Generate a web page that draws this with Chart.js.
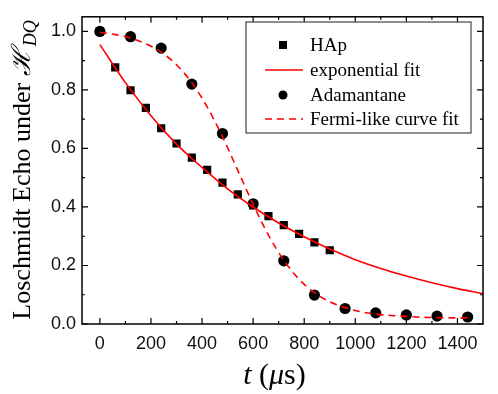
<!DOCTYPE html>
<html>
<head>
<meta charset="utf-8">
<script src="https://cdn.jsdelivr.net/npm/chart.js@4.4.0/dist/chart.umd.min.js"></script>
<style>
  html, body { margin: 0; padding: 0; background: #fff; }
</style>
</head>
<body>
<canvas id="echo-chart" width="498" height="394"></canvas>
<script>
// HAp measurements (squares)
var hapTimes = [0, 60, 120, 180, 240, 300, 360, 420, 480, 540, 600, 660, 720, 780, 840, 900];
var hapEcho = [1.0, 0.877, 0.799, 0.739, 0.669, 0.617, 0.569, 0.527, 0.483, 0.443, 0.405, 0.369, 0.338, 0.308, 0.279, 0.252];

// exponential fit
var expTimes = [0, 100, 200, 300, 400, 500, 600, 700, 800, 900, 1000, 1100, 1200, 1300, 1400, 1500];
var expEcho = [0.955, 0.825, 0.712, 0.615, 0.535, 0.462, 0.40, 0.345, 0.298, 0.256, 0.22, 0.19, 0.164, 0.141, 0.121, 0.104];

// Adamantane measurements (circles)
var adaTimes = [0, 120, 240, 360, 480, 600, 720, 840, 960, 1080, 1200, 1320, 1440];
var adaEcho = [1.0, 0.982, 0.943, 0.82, 0.651, 0.411, 0.216, 0.099, 0.053, 0.038, 0.031, 0.027, 0.024];

// Fermi-like fit
var fermiTimes = [0, 60, 120, 180, 240, 300, 360, 420, 480, 540, 600, 660, 720, 780, 840, 900, 960, 1020, 1080, 1140, 1200, 1260, 1320, 1380, 1440];
var fermiEcho = [0.997, 0.989, 0.977, 0.958, 0.929, 0.886, 0.825, 0.742, 0.640, 0.525, 0.409, 0.304, 0.218, 0.153, 0.107, 0.076, 0.056, 0.042, 0.034, 0.029, 0.026, 0.023, 0.022, 0.021, 0.021];

// axis ticks
var xTickValues = [0, 200, 400, 600, 800, 1000, 1200, 1400];
var xMinorValues = [100, 300, 500, 700, 900, 1100, 1300];
var yTickValues = [0, 0.2, 0.4, 0.6, 0.8, 1.0];
var yMinorValues = [0.1, 0.3, 0.5, 0.7, 0.9];

var toPoints = function(xs, ys) {
  return xs.map(function(x, i) { return { x: x, y: ys[i] }; });
};

var RED = 'rgb(255, 0, 0)';

// box frame with inward ticks, axis titles and the legend box
var framePlugin = {
  id: 'frame',
  afterDatasetsDraw: function(chart) {
    var ctx = chart.ctx, a = chart.chartArea;
    var xs = chart.scales.x, ys = chart.scales.y;
    ctx.save();
    ctx.strokeStyle = '#000';
    ctx.lineWidth = 1.5;
    ctx.strokeRect(a.left, a.top, a.right - a.left, a.bottom - a.top);
    ctx.lineWidth = 1.2;
    ctx.beginPath();
    var tickX = function(v, len) {
      var px = xs.getPixelForValue(v);
      ctx.moveTo(px, a.bottom); ctx.lineTo(px, a.bottom - len);
      ctx.moveTo(px, a.top); ctx.lineTo(px, a.top + len);
    };
    var tickY = function(v, len) {
      var py = ys.getPixelForValue(v);
      ctx.moveTo(a.left, py); ctx.lineTo(a.left + len, py);
      ctx.moveTo(a.right, py); ctx.lineTo(a.right - len, py);
    };
    xTickValues.forEach(function(v) { tickX(v, 6); });
    xMinorValues.forEach(function(v) { tickX(v, 3); });
    yTickValues.forEach(function(v) { tickY(v, 6); });
    yMinorValues.forEach(function(v) { tickY(v, 3); });
    ctx.stroke();
    ctx.restore();
  },
  afterDraw: function(chart) {
    var ctx = chart.ctx, a = chart.chartArea;
    ctx.save();
    ctx.fillStyle = '#000';

    // y title, rotated
    var serif = '"Liberation Serif", "DejaVu Serif", serif';
    var main = 'Loschmidt Echo under ';
    ctx.font = '26px ' + serif;
    var w1 = ctx.measureText(main).width;
    ctx.font = 'italic 26px ' + serif;
    var w2 = ctx.measureText('\u210B').width;
    ctx.font = 'italic 18px ' + serif;
    var w3 = ctx.measureText('DQ').width;
    var total = w1 + w2 + 2 + w3;
    ctx.translate(30, 170);
    ctx.rotate(-Math.PI / 2);
    ctx.textBaseline = 'alphabetic';
    ctx.textAlign = 'left';
    var sx = -total / 2;
    ctx.font = '26px ' + serif;
    ctx.fillText(main, sx, 0);
    ctx.font = 'italic 26px ' + serif;
    ctx.fillText('\u210B', sx + w1, 0);
    ctx.font = 'italic 18px ' + serif;
    ctx.fillText('DQ', sx + w1 + w2 + 2, 6);
    ctx.setTransform(1, 0, 0, 1, 0, 0);

    // x title: t (μs)
    var parts = [
      { t: 't', f: 'italic 30px ' + serif },
      { t: ' (', f: '30px ' + serif },
      { t: '\u03BC', f: 'italic 30px ' + serif },
      { t: 's)', f: '30px ' + serif }
    ];
    var tw = 0;
    parts.forEach(function(p) { ctx.font = p.f; p.w = ctx.measureText(p.t).width; tw += p.w; });
    var px = (a.left + a.right) / 2 - tw / 2 - 8;
    parts.forEach(function(p) {
      ctx.font = p.f;
      ctx.fillText(p.t, px, 384);
      px += p.w;
    });

    // legend box
    var box = { left: 246, top: 22, right: 471, bottom: 133 };
    ctx.fillStyle = '#fff';
    ctx.fillRect(box.left, box.top, box.right - box.left, box.bottom - box.top);
    ctx.strokeStyle = '#444';
    ctx.lineWidth = 1.2;
    ctx.strokeRect(box.left, box.top, box.right - box.left, box.bottom - box.top);
    var rowY = [45, 70, 95, 119];
    ctx.font = '19px ' + serif;
    ctx.textBaseline = 'middle';
    chart.data.datasets.forEach(function(ds, i) {
      var y = rowY[i];
      if (ds.showLine) {
        ctx.strokeStyle = ds.borderColor;
        ctx.lineWidth = ds.borderWidth;
        ctx.setLineDash(ds.borderDash || []);
        ctx.beginPath();
        ctx.moveTo(265, y); ctx.lineTo(303, y);
        ctx.stroke();
        ctx.setLineDash([]);
      } else {
        ctx.fillStyle = '#000';
        if (ds.pointStyle === 'rect') {
          ctx.fillRect(279, y - 4, 8, 8);
        } else {
          ctx.beginPath();
          ctx.arc(283, y, 4.5, 0, Math.PI * 2);
          ctx.fill();
        }
      }
      ctx.fillStyle = '#000';
      ctx.fillText(ds.label, 310, y + 1);
    });
    ctx.restore();
  }
};

var ctx = document.getElementById('echo-chart').getContext('2d');
var echoChart = new Chart(ctx, {
  type: 'scatter',
  data: {
    datasets: [{
      label: 'HAp',
      data: toPoints(hapTimes, hapEcho),
      showLine: false,
      pointStyle: 'rect',
      pointRadius: 5.8,
      backgroundColor: '#000',
      borderColor: '#000',
      borderWidth: 0,
      order: 4
    }, {
      label: 'exponential fit',
      data: toPoints(expTimes, expEcho),
      showLine: true,
      borderColor: RED,
      borderWidth: 1.6,
      pointRadius: 0,
      cubicInterpolationMode: 'monotone',
      order: 1
    }, {
      label: 'Adamantane',
      data: toPoints(adaTimes, adaEcho),
      showLine: false,
      pointStyle: 'circle',
      pointRadius: 5.6,
      backgroundColor: '#000',
      borderColor: '#000',
      borderWidth: 0,
      order: 3
    }, {
      label: 'Fermi-like curve fit',
      data: toPoints(fermiTimes, fermiEcho),
      showLine: true,
      borderColor: RED,
      borderWidth: 1.6,
      borderDash: [7, 5],
      pointRadius: 0,
      cubicInterpolationMode: 'monotone',
      order: 2
    }]
  },
  options: {
    responsive: false,
    animation: false,
    layout: { padding: { left: 0, right: 15, top: 8, bottom: 0 } },
    plugins: {
      legend: { display: false },
      tooltip: { enabled: false }
    },
    scales: {
      x: {
        type: 'linear',
        min: -70,
        max: 1500,
        afterBuildTicks: function(scale) {
          scale.ticks = xTickValues.map(function(v) { return { value: v }; });
        },
        afterFit: function(scale) { scale.height = 70; },
        grid: { display: false, drawTicks: false },
        border: { display: false },
        ticks: {
          maxRotation: 0,
          padding: 9,
          color: '#111',
          font: { family: '"Liberation Sans", Arial, sans-serif', size: 18 },
          callback: function(v) { return String(v); }
        }
      },
      y: {
        type: 'linear',
        min: 0,
        max: 1.05,
        afterBuildTicks: function(scale) {
          scale.ticks = yTickValues.map(function(v) { return { value: v }; });
        },
        afterFit: function(scale) { scale.width = 82; },
        grid: { display: false, drawTicks: false },
        border: { display: false },
        ticks: {
          padding: 6,
          color: '#111',
          font: { family: '"Liberation Sans", Arial, sans-serif', size: 18 },
          callback: function(v) { return v.toFixed(1); }
        }
      }
    }
  },
  plugins: [framePlugin]
});
</script>
</body>
</html>
